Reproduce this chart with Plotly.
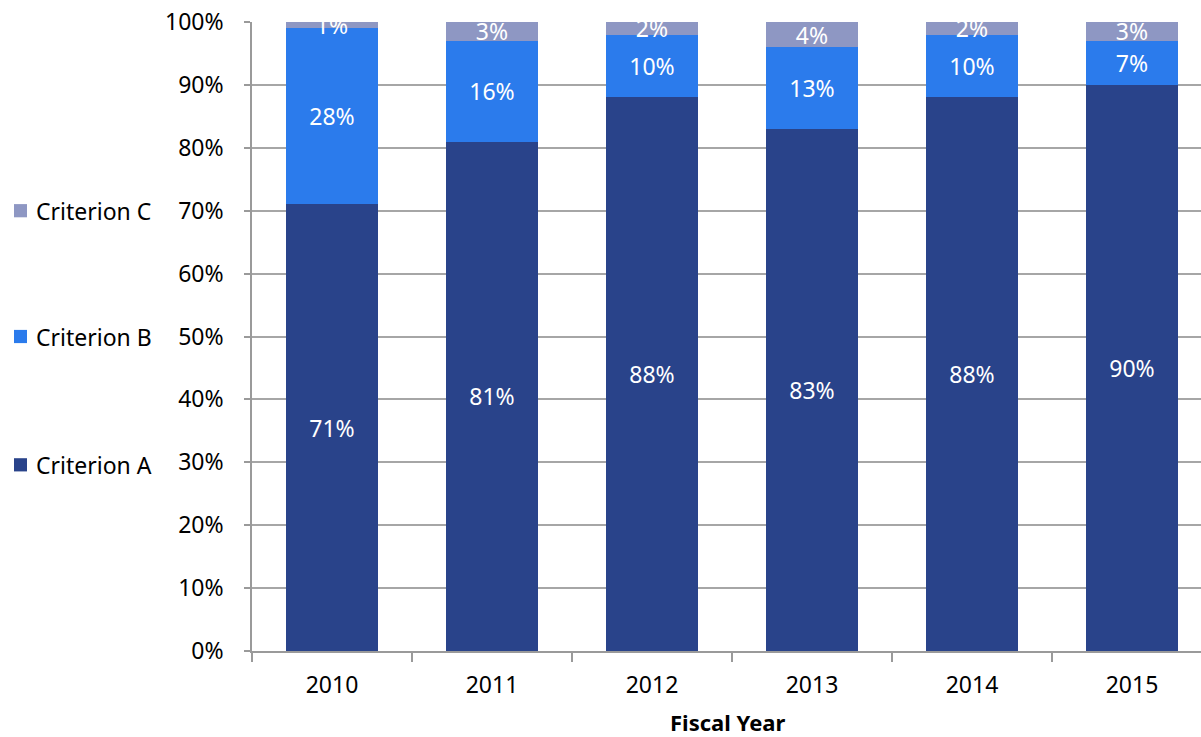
import plotly.graph_objects as go

years = ["2010", "2011", "2012", "2013", "2014", "2015"]
crit_a = [71, 81, 88, 83, 88, 90]
crit_b = [28, 16, 10, 13, 10, 7]
crit_c = [1, 3, 2, 4, 2, 3]
y_ticks = [0, 10, 20, 30, 40, 50, 60, 70, 80, 90, 100]
y_tick_text = ["0%", "10%", "20%", "30%", "40%", "50%", "60%", "70%", "80%", "90%", "100%"]
legend_names = ["Criterion C", "Criterion B", "Criterion A"]
x_title = "Fiscal Year"

FONT = "Noto Sans"
COLORS = {"Criterion A": "#29438A", "Criterion B": "#2B7BEC", "Criterion C": "#8E97C3"}

fig = go.Figure()
for name, vals in [("Criterion A", crit_a), ("Criterion B", crit_b), ("Criterion C", crit_c)]:
    fig.add_trace(go.Bar(
        x=years, y=vals, name=name, showlegend=False,
        marker=dict(color=COLORS[name], line=dict(width=0)),
        text=[f"{v}%" for v in vals], textposition="inside",
        insidetextanchor="middle",
        textfont=dict(color="white", size=23, family=FONT),
    ))

# manual legend (left side, aligned with 70% / 50% / 30% gridlines)
legend_y = [70, 50, 29.6]
for nm, yv in zip(legend_names, legend_y):
    fig.add_shape(type="rect", xref="paper", yref="y",
                  x0=-0.2508, x1=-0.2371, y0=yv - 1.05, y1=yv + 1.05,
                  fillcolor=COLORS[nm], line=dict(width=0), layer="above")
    fig.add_annotation(xref="paper", yref="y", x=-0.2297, y=yv,
                       text=nm, showarrow=False, xanchor="left", yanchor="middle",
                       font=dict(size=23, family=FONT, color="black"))

# x-axis title, centred on the six categories
fig.add_annotation(xref="x", yref="paper", x=2.47, y=-0.1125,
                   text=f"<b>{x_title}</b>", showarrow=False,
                   xanchor="center", yanchor="middle",
                   font=dict(size=22, family=FONT, color="black"))

fig.update_layout(
    barmode="stack", bargap=0.425,
    width=1201, height=737,
    margin=dict(l=252, r=0, t=22, b=86),
    paper_bgcolor="white", plot_bgcolor="white",
    font=dict(family=FONT, size=23, color="black"),
    uniformtext=dict(minsize=23, mode="show"),
    showlegend=False,
    xaxis=dict(
        range=[-0.5, 5.43125], showline=True, linecolor="#9A9A9A", linewidth=1.5,
        ticks="outside", tickson="boundaries", ticklen=9, tickcolor="#9A9A9A",
        tickwidth=1.5, ticklabelstandoff=13, automargin=False,
    ),
    yaxis=dict(
        range=[0, 100], tickmode="array", tickvals=y_ticks, ticktext=y_tick_text,
        showgrid=True, gridcolor="#A6A6A6", gridwidth=1.5,
        showline=True, linecolor="#9A9A9A", linewidth=1.5,
        ticks="outside", ticklen=6, tickcolor="#9A9A9A", tickwidth=1.5,
        ticklabelstandoff=16, zeroline=False, ticklabeloverflow="allow",
        automargin=False,
    ),
)
fig.write_html("out.html", config={"displayModeBar": False},
               post_script="document.body.style.margin='0';")
